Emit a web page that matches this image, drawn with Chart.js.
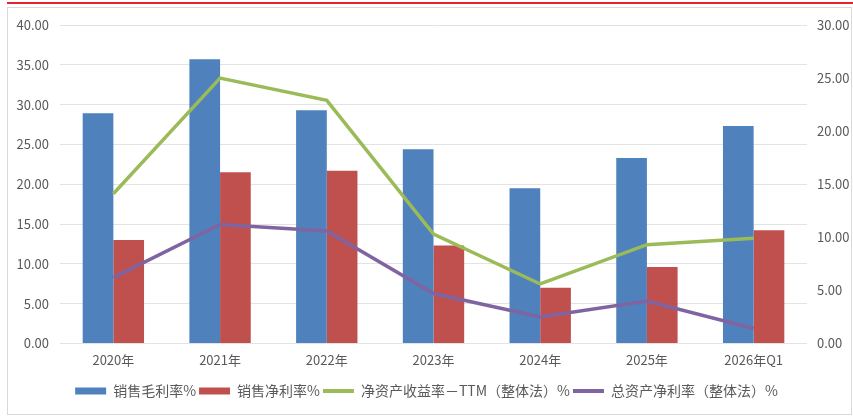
<!DOCTYPE html>
<html>
<head>
<meta charset="utf-8">
<script src="https://cdn.jsdelivr.net/npm/chart.js@4.4.1/dist/chart.umd.min.js"></script>
<style>
  body { margin: 0; background: #fff; }
  .wrap { position: relative; width: 853px; height: 416px; }
  .topline { position: absolute; left: 7px; top: 2px; width: 846px; height: 2px; background: #e0262b; }
  .frame { position: absolute; left: 7px; top: 7px; width: 843px; height: 406px; border: 1px solid #d9d9d9; }
  canvas { position: absolute; left: 0; top: 0; }
</style>
</head>
<body>
<div class="wrap">
  <div class="topline"></div>
  <div class="frame"></div>
  <canvas id="myChart" width="853" height="416"></canvas>
</div>
<script>
const years = ["2020年", "2021年", "2022年", "2023年", "2024年", "2025年", "2026年Q1"];
// left axis (bars)
const grossMargin = [28.9, 35.7, 29.3, 24.4, 19.5, 23.3, 27.3];
const netMargin = [13.0, 21.5, 21.7, 12.3, 7.0, 9.6, 14.2];
// right axis (lines)
const roeTTM = [14.1, 25.0, 22.9, 10.3, 5.6, 9.3, 9.9];
const roa = [6.2, 11.2, 10.6, 4.7, 2.5, 4.0, 1.4];

const leftTicks = [0, 5, 10, 15, 20, 25, 30, 35, 40];
const rightTicks = [0, 5, 10, 15, 20, 25, 30];

const textColor = "#595959";
const fontFamily = "'Noto Sans CJK SC', 'Noto Sans', sans-serif";

const ctx = document.getElementById("myChart");

new Chart(ctx, {
  data: {
    labels: years,
    datasets: [
      {
        type: "bar",
        label: "销售毛利率%",
        data: grossMargin,
        backgroundColor: "#4f81bd",
        yAxisID: "y",
        order: 1,
      },
      {
        type: "bar",
        label: "销售净利率%",
        data: netMargin,
        backgroundColor: "#c0504d",
        yAxisID: "y",
        order: 1,
      },
      {
        type: "line",
        label: "净资产收益率－TTM（整体法）%",
        data: roeTTM,
        borderColor: "#9bbb59",
        backgroundColor: "#9bbb59",
        borderWidth: 3.5,
        pointRadius: 0,
        tension: 0,
        yAxisID: "y1",
        order: 0,
      },
      {
        type: "line",
        label: "总资产净利率（整体法）%",
        data: roa,
        borderColor: "#8064a2",
        backgroundColor: "#8064a2",
        borderWidth: 3.5,
        pointRadius: 0,
        tension: 0,
        yAxisID: "y1",
        order: 0,
      },
    ],
  },
  options: {
    responsive: false,
    animation: false,
    layout: { padding: { top: 25, bottom: 8, left: 0, right: 0 } },
    datasets: {
      bar: { categoryPercentage: 0.575, barPercentage: 1.0 },
    },
    plugins: {
      tooltip: { enabled: false },
      legend: {
        position: "bottom",
        labels: {
          color: textColor,
          font: { family: fontFamily, size: 14 },
          usePointStyle: true,
          pointStyleWidth: 31,
          boxWidth: 31,
          boxHeight: 7,
          padding: 3,
          sort: (a, b) => a.datasetIndex - b.datasetIndex,
          generateLabels(chart) {
            const items = Chart.defaults.plugins.legend.labels.generateLabels(chart);
            items.forEach((it) => {
              const ds = chart.data.datasets[it.datasetIndex];
              if (ds.type === "line") {
                it.pointStyle = "line";
                it.lineWidth = 4;
                it.strokeStyle = ds.borderColor;
              } else {
                it.pointStyle = "rect";
                it.lineWidth = 0;
              }
            });
            return items;
          },
        },
      },
    },
    scales: {
      x: {
        grid: { display: false, drawTicks: false },
        border: { display: false },
        afterFit: (scale) => { scale.height += 4; },
        ticks: { color: textColor, font: { family: fontFamily, size: 13 }, padding: 9 },
      },
      y: {
        position: "left",
        min: 0,
        max: 40,
        afterBuildTicks: (scale) => { scale.ticks = leftTicks.map((v) => ({ value: v })); },
        afterFit: (scale) => { scale.width = 60; },
        grid: { color: "#e3e3e3", drawTicks: false },
        border: { display: false },
        ticks: {
          color: textColor,
          font: { family: fontFamily, size: 13 },
          padding: 11,
          callback: (v) => Number(v).toFixed(2),
        },
      },
      y1: {
        position: "right",
        min: 0,
        max: 30,
        afterBuildTicks: (scale) => { scale.ticks = rightTicks.map((v) => ({ value: v })); },
        afterFit: (scale) => { scale.width = 46; },
        grid: { drawOnChartArea: false, drawTicks: false },
        border: { display: false },
        ticks: {
          color: textColor,
          font: { family: fontFamily, size: 13 },
          padding: 10,
          callback: (v) => Number(v).toFixed(2),
        },
      },
    },
  },
});
</script>
</body>
</html>
